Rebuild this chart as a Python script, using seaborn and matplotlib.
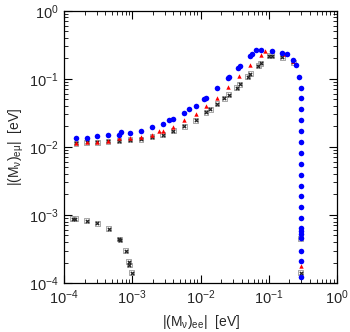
import numpy as np
import pandas as pd
import seaborn as sns
import matplotlib
matplotlib.use("Agg")
import matplotlib.pyplot as plt
from matplotlib.ticker import LogLocator, NullFormatter

# |(M_nu)_ee| and |(M_nu)_emu|, three scan sets
blue_ee = [1.5e-4, 2.15e-4, 3.08e-4, 4.4e-4, 6.4e-4, 6.76e-4, 9.25e-4, 1.34e-3, 1.94e-3,
           2.8e-3, 3.5e-3, 4.0e-3, 5.8e-3, 6.8e-3, 8.5e-3, 0.0113, 0.012, 0.0174, 0.0249,
           0.0258, 0.0356, 0.038, 0.0524, 0.056, 0.0647, 0.0759, 0.11, 0.157, 0.184, 0.227,
           0.252, 0.276, 0.292, 0.295, 0.295, 0.295, 0.295, 0.295, 0.295, 0.295, 0.295,
           0.295, 0.295, 0.295, 0.295, 0.295, 0.295, 0.295, 0.295, 0.295, 0.295, 0.295]
blue_emu = [0.0137, 0.0134, 0.0145, 0.015, 0.015, 0.0168, 0.0159, 0.0174, 0.0197,
            0.0218, 0.0247, 0.026, 0.031, 0.0358, 0.040, 0.0508, 0.053, 0.0738, 0.1035,
            0.108, 0.1466, 0.155, 0.213, 0.228, 0.264, 0.264, 0.258, 0.241, 0.228, 0.19,
            0.157, 0.108, 0.0738, 0.0515, 0.0358, 0.0247, 0.0171, 0.0118, 0.00816, 0.00569,
            0.0039, 0.0027, 0.00188, 0.0013, 0.00089, 0.00064, 0.00058, 0.00052, 0.00046,
            0.0003, 0.00021, 0.000121]

red_ee = [1.5e-4, 2.15e-4, 3.08e-4, 4.4e-4, 6.4e-4, 9.25e-4, 1.34e-3, 1.94e-3, 2.45e-3,
          2.8e-3, 4.0e-3, 5.8e-3, 8.5e-3, 0.012, 0.0174, 0.0249, 0.0365, 0.053, 0.0759,
          0.0875, 0.171, 0.23, 0.295, 0.295]
red_emu = [0.01156, 0.0116, 0.0116, 0.012, 0.0133, 0.0134, 0.0142, 0.0147, 0.0172,
           0.0174, 0.0199, 0.0249, 0.0306, 0.040, 0.053, 0.0762, 0.1096, 0.157, 0.225,
           0.258, 0.231, 0.185, 0.00048, 0.000178]

black_ee = [1.5e-4, 2.15e-4, 3.08e-4, 4.4e-4, 6.4e-4, 9.25e-4, 1.34e-3, 1.94e-3, 2.8e-3,
            4.0e-3, 5.8e-3, 8.5e-3, 0.012, 0.0139, 0.0174, 0.0224, 0.0258, 0.0339, 0.0375,
            0.049, 0.0535, 0.0697, 0.0759, 0.102, 0.11, 0.157, 0.227, 0.295, 0.295,
            1.34e-4, 1.47e-4, 2.15e-4, 3.08e-4, 4.5e-4, 6.4e-4, 6.6e-4, 8.0e-4, 8.9e-4,
            9.05e-4, 9.8e-4]
black_emu = [0.0113, 0.0116, 0.0117, 0.012, 0.0123, 0.0127, 0.013, 0.0142, 0.0152,
             0.0172, 0.0201, 0.0247, 0.032, 0.0358, 0.0429, 0.0515, 0.0588, 0.0745, 0.0836,
             0.108, 0.1186, 0.155, 0.17, 0.218, 0.218, 0.206, 0.174, 0.000454, 0.000142,
             0.00088, 0.00088, 0.00082, 0.000755, 0.00063, 0.000444, 0.00043, 0.0003,
             0.000206, 0.000184, 0.000142]

sns.set_style("ticks")
plt.rcParams["font.family"] = ["Liberation Sans", "DejaVu Sans"]
plt.rcParams["mathtext.default"] = "regular"

fig = plt.figure(figsize=(3.5, 3.32), dpi=100)
ax = fig.add_axes([0.183, 0.1476, 0.78, 0.82])

# black set drawn as small boxed crosses, like the gnuplot points
sns.scatterplot(x=black_ee, y=black_emu, ax=ax, marker="s", facecolor="none",
                edgecolor="#999999", s=12, linewidth=0.6, zorder=3)
sns.scatterplot(x=black_ee, y=black_emu, ax=ax, marker="x", color="#222222", s=6,
                linewidth=0.9, zorder=3)
sns.scatterplot(x=red_ee, y=red_emu, ax=ax, marker="^", color="red", s=10,
                linewidth=0, zorder=4)
sns.scatterplot(x=blue_ee, y=blue_emu, ax=ax, marker="o", color="blue", s=16,
                linewidth=0, zorder=5)

ax.set_xscale("log")
ax.set_yscale("log")
ax.set_xlim(1e-4, 1)
ax.set_ylim(1e-4, 1)

for axis in (ax.xaxis, ax.yaxis):
    axis.set_major_locator(LogLocator(base=10, numticks=10))
    axis.set_minor_locator(LogLocator(base=10, subs=np.arange(2, 10), numticks=10))
    axis.set_minor_formatter(NullFormatter())

ax.tick_params(which="both", direction="in", top=True, right=True, labelsize=10.5,
               color="black")
ax.tick_params(which="major", length=6, width=0.8, pad=4)
ax.tick_params(which="minor", length=3, width=0.6)
for sp in ax.spines.values():
    sp.set_linewidth(0.9)
    sp.set_color("black")

ax.set_xlabel(r"$|(M_{\nu})_{ee}|$  [eV]", fontsize=10, labelpad=4)
ax.set_ylabel(r"$|(M_{\nu})_{e\mu}|$  [eV]", fontsize=10, labelpad=2)

fig.savefig("out.png", dpi=100)
